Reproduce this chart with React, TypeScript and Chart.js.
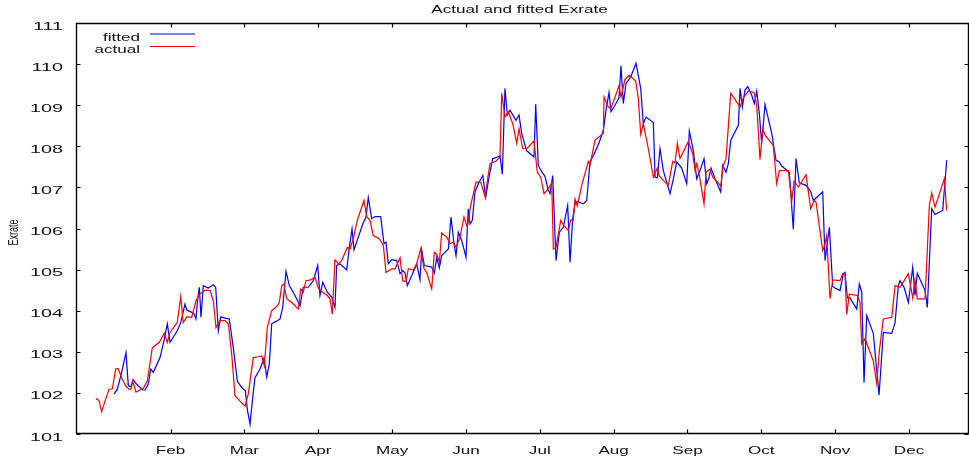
import React, { useEffect, useRef } from 'react';
import { Chart, registerables } from 'chart.js';

Chart.register(...registerables);

const TITLE = 'Actual and fitted Exrate';
const Y_TITLE = 'Exrate';
const SERIES_NAMES = ['fitted', 'actual'];
const MONTH_LABELS = ['Feb', 'Mar', 'Apr', 'May', 'Jun', 'Jul', 'Aug', 'Sep', 'Oct', 'Nov', 'Dec'];
const MONTH_TICKS = [1, 2, 3, 4, 5, 6, 7, 8, 9, 10, 11];
const Y_TICKS = [101, 102, 103, 104, 105, 106, 107, 108, 109, 110, 111];
const X_MIN = -0.2796;
const X_MAX = 11.812;
const Y_MIN = 101;
const Y_MAX = 111;

// time in months since 1 Jan
const actualT = [
  -0.01, 0.032, 0.068, 0.113, 0.167, 0.212, 0.258, 0.293, 0.339, 0.393,
  0.438, 0.465, 0.488, 0.533, 0.587, 0.632, 0.686, 0.754, 0.848, 0.916,
  0.957, 0.993, 1.092, 1.138, 1.173, 1.219, 1.287, 1.345, 1.399, 1.467,
  1.535, 1.58, 1.616, 1.67, 1.738, 1.783, 1.829, 1.873, 1.941, 2.009,
  2.053, 2.121, 2.189, 2.235, 2.27, 2.311, 2.37, 2.438, 2.473, 2.506,
  2.537, 2.573, 2.641, 2.731, 2.763, 2.798, 2.835, 2.898, 2.957, 3.001,
  3.061, 3.123, 3.16, 3.191, 3.227, 3.272, 3.318, 3.394, 3.431, 3.475,
  3.529, 3.62, 3.657, 3.701, 3.746, 3.827, 3.882, 3.918, 3.995, 4.04,
  4.108, 4.144, 4.189, 4.22, 4.288, 4.334, 4.388, 4.433, 4.469, 4.537,
  4.572, 4.605, 4.64, 4.672, 4.74, 4.785, 4.829, 4.866, 4.92, 4.974,
  5.019, 5.065, 5.137, 5.2, 5.259, 5.326, 5.408, 5.462, 5.485, 5.529,
  5.574, 5.634, 5.688, 5.719, 5.769, 5.823, 5.922, 5.967, 6.013, 6.058,
  6.116, 6.162, 6.184, 6.22, 6.284, 6.328, 6.387, 6.419, 6.454, 6.477,
  6.508, 6.568, 6.657, 6.68, 6.748, 6.861, 6.87, 6.928, 6.961, 6.996,
  7.073, 7.1, 7.154, 7.213, 7.299, 7.335, 7.367, 7.402, 7.47, 7.538,
  7.592, 7.619, 7.673, 7.741, 7.8, 7.831, 7.863, 7.899, 8.012, 8.071,
  8.102, 8.125, 8.161, 8.224, 8.251, 8.305, 8.342, 8.396, 8.45, 8.485,
  8.522, 8.586, 8.712, 8.756, 8.824, 8.901, 8.938, 8.982, 9.019, 9.05,
  9.162, 9.208, 9.244, 9.366, 9.412, 9.443, 9.501, 9.605, 9.669, 9.714,
  9.741, 9.831, 9.863, 9.885, 9.93, 9.967, 10.066, 10.102, 10.133, 10.156,
  10.192, 10.3, 10.336, 10.359, 10.404, 10.449, 10.516, 10.563, 10.598, 10.652,
  10.766, 10.811, 10.878, 10.991, 11.05, 11.081, 11.112, 11.217, 11.275, 11.307,
  11.352, 11.478, 11.51,
];
const actualV = [
  101.86, 101.82, 101.54, 101.8, 102.09, 102.1, 102.58, 102.59, 102.37, 102.17,
  102.09, 102.09, 102.29, 102.02, 102.07, 102.11, 102.29, 103.1, 103.23, 103.45,
  103.23, 103.47, 103.71, 104.34, 103.71, 103.85, 103.84, 104.24, 104.41, 104.5,
  104.49, 104.24, 103.59, 103.76, 103.76, 103.68, 102.94, 101.93, 101.8, 101.68,
  101.97, 102.86, 102.88, 102.9, 102.66, 103.59, 104.0, 104.1, 104.2, 104.61,
  104.65, 104.29, 104.2, 104.04, 104.53, 104.45, 104.73, 104.75, 104.81, 104.55,
  104.45, 104.37, 104.29, 103.92, 105.24, 105.14, 105.22, 105.54, 105.5, 105.75,
  106.2, 106.68, 106.29, 106.2, 105.83, 105.75, 105.59, 104.93, 105.02, 105.02,
  105.29, 104.73, 104.71, 105.02, 104.99, 105.14, 105.5, 105.02, 104.93, 104.53,
  105.42, 105.38, 105.18, 105.89, 105.79, 105.63, 105.67, 105.54, 105.79, 106.28,
  106.03, 106.56, 107.13, 107.13, 106.78, 107.58, 107.64, 107.74, 109.29, 108.71,
  108.84, 108.55, 108.07, 108.43, 107.94, 107.94, 108.13, 107.37, 107.25, 106.85,
  106.97, 107.11, 105.5, 105.54, 106.2, 106.07, 105.95, 106.21, 106.2, 106.72,
  106.55, 107.05, 107.63, 107.54, 108.15, 108.31, 109.2, 108.96, 108.92, 109.08,
  109.47, 109.2, 109.63, 109.73, 109.59, 109.16, 108.29, 108.55, 107.94, 107.25,
  107.47, 107.28, 107.17, 107.05, 107.63, 107.6, 108.07, 107.7, 108.12, 107.82,
  107.41, 107.58, 107.29, 106.6, 107.37, 107.44, 107.25, 107.15, 107.03, 107.54,
  107.7, 109.29, 108.96, 109.18, 109.34, 109.31, 109.0, 107.68, 108.43, 108.27,
  108.02, 107.09, 107.41, 107.41, 106.66, 107.15, 107.01, 107.31, 106.48, 106.68,
  106.64, 105.46, 105.63, 105.83, 104.3, 104.75, 104.73, 104.9, 104.9, 103.91,
  104.4, 104.37, 104.2, 103.19, 103.32, 103.1, 102.78, 102.23, 103.02, 103.8,
  103.84, 104.61, 104.57, 104.9, 104.31, 104.75, 104.29, 104.29, 106.56, 106.86,
  106.52, 107.21, 106.44,
];

const fittedT = [
  0.235, 0.28, 0.339, 0.397, 0.429, 0.461, 0.496, 0.542, 0.624, 0.655,
  0.699, 0.732, 0.767, 0.858, 0.912, 0.957, 0.993, 1.092, 1.138, 1.196,
  1.219, 1.287, 1.318, 1.345, 1.368, 1.39, 1.413, 1.444, 1.512, 1.58,
  1.612, 1.647, 1.68, 1.738, 1.796, 1.85, 1.905, 1.964, 2.013, 2.04,
  2.077, 2.113, 2.144, 2.212, 2.266, 2.303, 2.338, 2.37, 2.429, 2.483,
  2.519, 2.564, 2.609, 2.686, 2.754, 2.798, 2.866, 2.934, 2.993, 3.024,
  3.061, 3.123, 3.183, 3.227, 3.25, 3.295, 3.386, 3.421, 3.458, 3.485,
  3.543, 3.603, 3.647, 3.678, 3.724, 3.769, 3.846, 3.891, 3.918, 3.949,
  3.995, 4.063, 4.108, 4.144, 4.175, 4.207, 4.266, 4.334, 4.378, 4.401,
  4.437, 4.537, 4.572, 4.605, 4.64, 4.672, 4.717, 4.762, 4.798, 4.839,
  4.866, 4.897, 4.943, 5.001, 5.032, 5.056, 5.087, 5.123, 5.168, 5.228,
  5.268, 5.317, 5.363, 5.462, 5.493, 5.529, 5.561, 5.597, 5.678, 5.719,
  5.756, 5.823, 5.922, 5.945, 5.98, 6.026, 6.071, 6.116, 6.139, 6.175,
  6.22, 6.265, 6.319, 6.378, 6.41, 6.446, 6.477, 6.508, 6.59, 6.636,
  6.68, 6.734, 6.806, 6.861, 6.897, 6.938, 6.965, 7.019, 7.073, 7.1,
  7.131, 7.168, 7.232, 7.303, 7.367, 7.402, 7.439, 7.538, 7.561, 7.592,
  7.628, 7.673, 7.764, 7.809, 7.855, 7.922, 7.99, 8.025, 8.079, 8.125,
  8.161, 8.224, 8.261, 8.288, 8.319, 8.373, 8.45, 8.477, 8.522, 8.553,
  8.586, 8.689, 8.712, 8.743, 8.779, 8.816, 8.87, 8.905, 8.938, 8.973,
  9.005, 9.05, 9.141, 9.199, 9.244, 9.276, 9.379, 9.433, 9.47, 9.514,
  9.605, 9.669, 9.704, 9.831, 9.863, 9.921, 9.967, 9.998, 10.066, 10.111,
  10.133, 10.165, 10.201, 10.292, 10.327, 10.359, 10.391, 10.427, 10.516, 10.594,
  10.652, 10.766, 10.811, 10.855, 10.878, 10.932, 10.991, 11.05, 11.081, 11.112,
  11.217, 11.248, 11.307, 11.352, 11.456, 11.51,
];
const fittedV = [
  101.97, 102.09, 102.5, 102.98, 102.17, 102.15, 102.32, 102.21, 102.07, 102.07,
  102.21, 102.58, 102.5, 102.86, 103.27, 103.68, 103.23, 103.51, 103.71, 104.16,
  104.02, 103.96, 103.92, 103.8, 104.29, 104.57, 103.84, 104.61, 104.55, 104.63,
  104.57, 103.51, 103.85, 103.82, 103.8, 103.1, 102.29, 102.13, 102.05, 101.6,
  101.24, 101.89, 102.37, 102.58, 102.85, 102.39, 102.7, 103.68, 103.74, 103.8,
  104.08, 104.96, 104.61, 104.37, 104.12, 104.57, 104.57, 104.73, 105.1, 104.37,
  104.69, 104.45, 104.33, 104.08, 105.1, 105.14, 104.99, 105.54, 105.99, 105.48,
  105.79, 106.11, 106.28, 106.75, 106.24, 106.29, 106.29, 105.63, 105.67, 105.14,
  105.24, 105.22, 104.9, 104.98, 104.92, 104.61, 104.85, 105.14, 104.75, 105.48,
  105.1, 105.06, 104.91, 105.3, 105.04, 105.34, 105.42, 105.5, 106.28, 105.63,
  105.34, 105.91, 105.71, 105.3, 106.48, 106.11, 106.2, 106.89, 107.09, 107.29,
  106.76, 107.29, 107.7, 107.76, 107.32, 109.41, 108.76, 108.88, 108.63, 108.76,
  108.31, 107.89, 107.74, 109.02, 107.54, 107.38, 107.27, 106.93, 106.85, 107.29,
  105.22, 105.91, 106.03, 106.56, 105.18, 106.24, 106.6, 106.66, 106.6, 106.68,
  107.62, 107.8, 108.1, 108.39, 108.88, 109.31, 108.84, 109.0, 109.18, 109.96,
  109.04, 109.53, 109.69, 110.02, 109.41, 108.55, 108.71, 108.58, 107.25, 107.23,
  107.94, 107.41, 106.85, 107.21, 107.62, 107.47, 107.09, 108.37, 107.9, 107.21,
  107.37, 107.7, 107.09, 107.21, 107.47, 107.21, 106.89, 107.54, 107.37, 107.58,
  108.15, 108.51, 109.41, 108.96, 109.37, 109.45, 109.24, 109.04, 109.34, 108.8,
  108.07, 109.02, 108.31, 107.66, 107.62, 107.52, 107.37, 105.98, 107.7, 107.11,
  107.05, 106.9, 106.68, 106.89, 105.22, 106.03, 104.59, 104.55, 104.49, 104.9,
  104.93, 104.31, 104.31, 104.04, 104.65, 104.45, 102.25, 103.88, 103.45, 101.95,
  103.47, 103.45, 103.71, 104.61, 104.73, 104.57, 104.2, 105.06, 104.37, 104.91,
  104.49, 104.08, 106.48, 106.34, 106.44, 107.66,
];

const FITTED_COLOR = '#0000ff';
const ACTUAL_COLOR = '#ff0000';
const FONT_FAMILY = '"Liberation Sans", Arial, sans-serif';
const STRETCH = 1.55;
const Y_LABEL_STRETCH = 1.8;

function stretchedText(
  ctx: CanvasRenderingContext2D,
  text: string,
  x: number,
  y: number,
  align: CanvasTextAlign,
  size: number,
  sx: number
) {
  ctx.save();
  ctx.translate(x, y);
  ctx.scale(sx, 1);
  ctx.font = `${size}px ${FONT_FAMILY}`;
  ctx.textAlign = align;
  ctx.textBaseline = 'alphabetic';
  ctx.fillText(text, 0, 0);
  ctx.restore();
}

const framePlugin = {
  id: 'gretlFrame',
  afterDatasetsDraw(chart: any) {
    const { ctx, chartArea: a, scales } = chart;
    const xs = scales.x;
    const ys = scales.y;
    const L = a.left + 0.5;
    const R = a.right - 0.5;
    const T = a.top + 0.5;
    const B = a.bottom - 0.5;
    const tl = 4;
    ctx.save();
    ctx.strokeStyle = '#000';
    ctx.lineWidth = 1.4;
    ctx.beginPath();
    ctx.rect(L, T, R - L, B - T);
    ctx.stroke();
    ctx.lineWidth = 1.2;
    ctx.beginPath();
    Y_TICKS.forEach((v) => {
      const y = Math.round(ys.getPixelForValue(v)) + 0.5;
      ctx.moveTo(L, y);
      ctx.lineTo(L + tl, y);
      ctx.moveTo(R, y);
      ctx.lineTo(R - tl, y);
    });
    MONTH_TICKS.forEach((v) => {
      const x = Math.round(xs.getPixelForValue(v)) + 0.5;
      ctx.moveTo(x, B);
      ctx.lineTo(x, B - tl);
      ctx.moveTo(x, T);
      ctx.lineTo(x, T + tl);
    });
    ctx.stroke();

    ctx.fillStyle = '#111';
    Y_TICKS.forEach((v) => {
      const y = ys.getPixelForValue(v);
      stretchedText(ctx, String(v), 63, y + 6.5, 'right', 11, Y_LABEL_STRETCH);
    });
    MONTH_TICKS.forEach((v, i) => {
      const x = xs.getPixelForValue(v);
      stretchedText(ctx, MONTH_LABELS[i], x, 453.5, 'center', 11, STRETCH);
    });

    // title
    stretchedText(ctx, TITLE, 519.5, 12.8, 'center', 11, STRETCH);

    // y axis title
    ctx.save();
    ctx.translate(17.5, 232.5);
    ctx.scale(STRETCH, 1);
    ctx.rotate(-Math.PI / 2);
    ctx.font = `9px ${FONT_FAMILY}`;
    ctx.textAlign = 'center';
    ctx.textBaseline = 'alphabetic';
    ctx.fillText(Y_TITLE, 0, 0);
    ctx.restore();

    // legend
    const legendRows = [
      { name: SERIES_NAMES[0], color: FITTED_COLOR, base: 40.7, line: 34 },
      { name: SERIES_NAMES[1], color: ACTUAL_COLOR, base: 53.3, line: 46.5 },
    ];
    legendRows.forEach((r) => {
      ctx.fillStyle = '#111';
      stretchedText(ctx, r.name, 140, r.base, 'right', 11, STRETCH);
      ctx.strokeStyle = r.color;
      ctx.lineWidth = 1.2;
      ctx.beginPath();
      ctx.moveTo(150, r.line);
      ctx.lineTo(195, r.line);
      ctx.stroke();
    });
    ctx.restore();
  },
};

export default function App() {
  const canvasRef = useRef<HTMLCanvasElement | null>(null);

  useEffect(() => {
    if (!canvasRef.current) return;
    const fittedPts = fittedT.map((t, i) => ({ x: t, y: fittedV[i] }));
    const actualPts = actualT.map((t, i) => ({ x: t, y: actualV[i] }));
    const chart = new Chart(canvasRef.current, {
      type: 'line',
      data: {
        datasets: [
          {
            label: SERIES_NAMES[0],
            data: fittedPts,
            borderColor: FITTED_COLOR,
            borderWidth: 1.2,
            pointRadius: 0,
            tension: 0,
            fill: false,
            order: 2,
          },
          {
            label: SERIES_NAMES[1],
            data: actualPts,
            borderColor: ACTUAL_COLOR,
            borderWidth: 1.2,
            pointRadius: 0,
            tension: 0,
            fill: false,
            order: 1,
          },
        ],
      },
      options: {
        animation: false,
        responsive: false,
        devicePixelRatio: 1,
        layout: { padding: { left: 76, right: 0, top: 23, bottom: 25 } },
        plugins: {
          legend: { display: false },
          title: { display: false },
          tooltip: { enabled: false },
        },
        scales: {
          x: { type: 'linear', min: X_MIN, max: X_MAX, display: false },
          y: { type: 'linear', min: Y_MIN, max: Y_MAX, display: false },
        },
      },
      plugins: [framePlugin],
    });
    return () => chart.destroy();
  }, []);

  return (
    <div style={{ position: 'absolute', left: 0, top: 0, width: 969, height: 459, background: '#fff' }}>
      <canvas ref={canvasRef} width={969} height={459} style={{ display: 'block' }} />
    </div>
  );
}
